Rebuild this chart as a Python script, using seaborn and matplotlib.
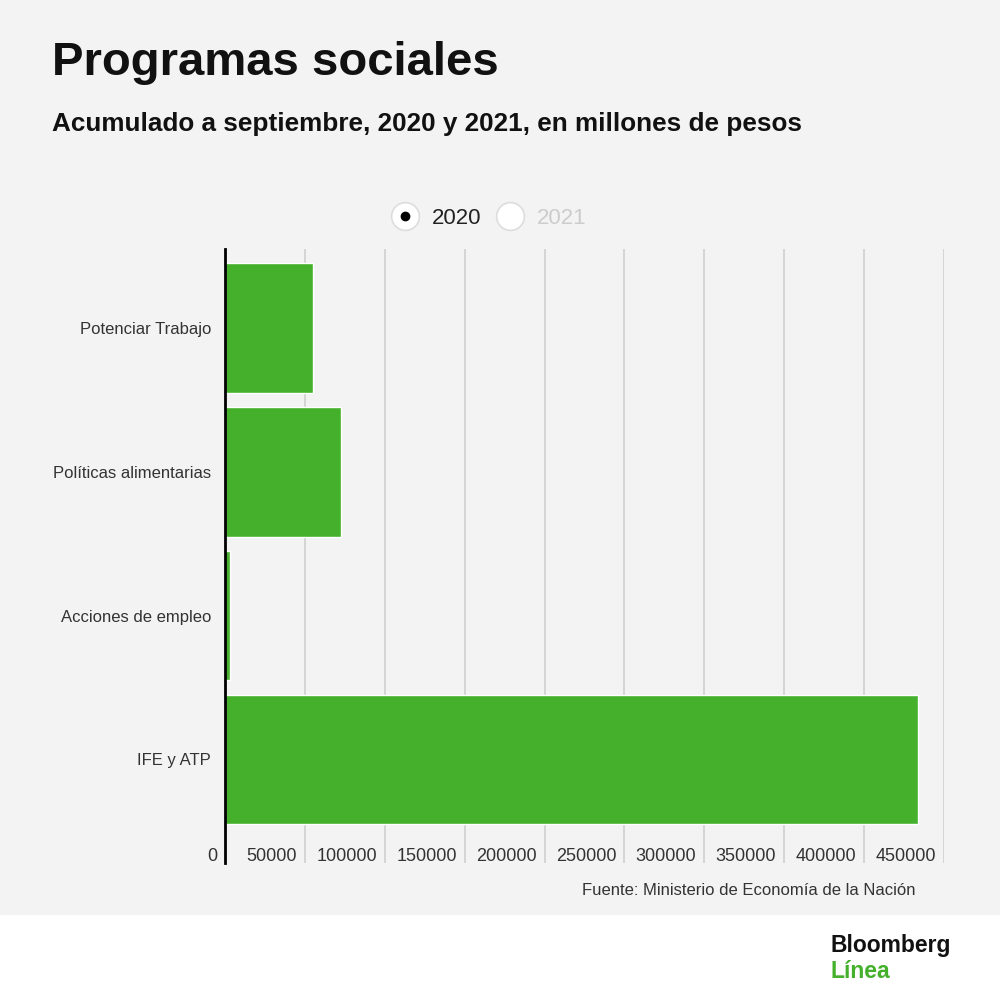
import numpy as np
import pandas as pd
import matplotlib
matplotlib.use("Agg")
import matplotlib.pyplot as plt
import matplotlib.transforms as mtransforms
from matplotlib.lines import Line2D
import seaborn as sns

# datos (acumulado a septiembre 2020, millones de pesos)
programas = ["Potenciar Trabajo", "Políticas alimentarias", "Acciones de empleo", "IFE y ATP"]
valores_2020 = [55000, 72600, 3000, 433500]
series = ["2020", "2021"]
x_ticks = [0, 50000, 100000, 150000, 200000, 250000, 300000, 350000, 400000, 450000]

df = pd.DataFrame({"programa": programas, "valor": valores_2020})

GREEN = "#44b02b"
BG = "#f3f3f3"

sns.set_theme(style="white")
plt.rcParams["font.family"] = ["Liberation Sans", "DejaVu Sans"]

fig = plt.figure(figsize=(10, 9.98), dpi=100)
fig.patch.set_facecolor(BG)
# franja blanca inferior
fig.add_artist(plt.Rectangle((0, 0), 1, 83 / 998, transform=fig.transFigure,
                             facecolor="white", edgecolor="none", zorder=0))

ax = fig.add_axes([0.225, 135 / 998, 0.719, 614 / 998])
ax.set_facecolor(BG)

sns.barplot(data=df, x="valor", y="programa", orient="h", color=GREEN,
            saturation=1, width=0.9, ax=ax, zorder=2)

ax.set_xlim(0, 450000)
ax.set_ylim(3.72, -0.55)
ax.set_xlabel("")
ax.set_ylabel("")
ax.set_xticks(x_ticks)
ax.set_xticklabels([str(t) for t in x_ticks])
ax.set_axisbelow(True)
ax.grid(axis="x", color="#d2d2d2", linewidth=1.3)
ax.grid(axis="y", visible=False)

for s in ["top", "right", "bottom"]:
    ax.spines[s].set_visible(False)
ax.spines["left"].set_color("black")
ax.spines["left"].set_linewidth(2)
ax.spines["left"].set_zorder(3)

ax.tick_params(axis="x", length=0, pad=-11, labelsize=13, labelcolor="#333333")
ax.tick_params(axis="y", length=0, pad=10, labelsize=12, labelcolor="#333333")

offset = mtransforms.ScaledTranslation(-8 / 100, 0, fig.dpi_scale_trans)
for lab in ax.get_xticklabels():
    lab.set_horizontalalignment("right")
    lab.set_transform(lab.get_transform() + offset)

# leyenda
ring = dict(marker="o", linestyle="none", markersize=20, markerfacecolor="white",
            markeredgecolor="#dddddd", markeredgewidth=1.2)
h2020 = (Line2D([], [], **ring),
         Line2D([], [], marker="o", linestyle="none", markersize=6, color="black"))
h2021 = Line2D([], [], **ring)
leg = ax.legend([h2020, h2021], series, ncol=2, frameon=False, loc="center",
                bbox_to_anchor=(0.488, 1 - 218 / 998), bbox_transform=fig.transFigure,
                fontsize=16, handlelength=1.4, handletextpad=0.5, columnspacing=0.6)
leg.get_texts()[0].set_color("#222222")
leg.get_texts()[1].set_color("#cccccc")

# textos
fig.text(0.052, 1 - 75 / 998, "Programas sociales", fontsize=34, fontweight="bold",
         color="#111111", va="baseline")
fig.text(0.052, 1 - 131 / 998, "Acumulado a septiembre, 2020 y 2021, en millones de pesos",
         fontsize=18.8, fontweight="bold", color="#111111", va="baseline")
fig.text(0.916, 1 - 895 / 998, "Fuente: Ministerio de Economía de la Nación",
         fontsize=12, color="#333333", ha="right", va="baseline")
fig.text(0.831, 1 - 952 / 998, "Bloomberg", fontsize=16.5, fontweight="bold",
         color="#111111", va="baseline")
fig.text(0.831, 1 - 978 / 998, "Línea", fontsize=16.5, fontweight="bold",
         color=GREEN, va="baseline")

fig.savefig("out.png", dpi=100, facecolor=fig.get_facecolor())
